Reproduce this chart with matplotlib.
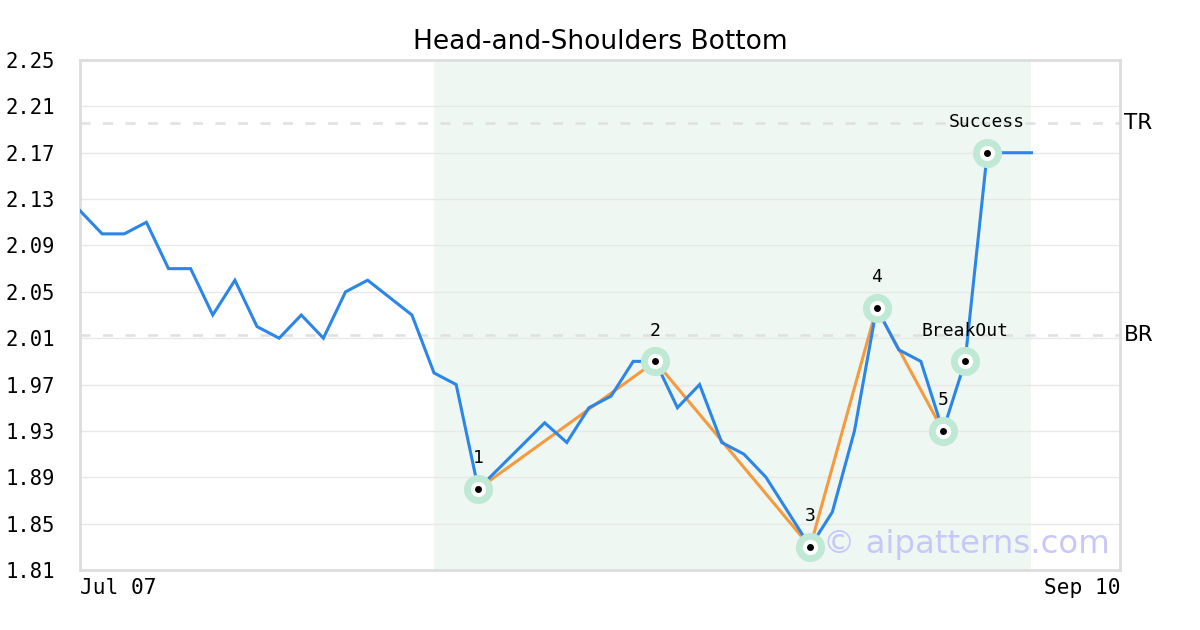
#Head-and-shoulders bottom chart, pattern points marked along the close prices
import matplotlib
matplotlib.use("Agg")
import matplotlib.pyplot as plt

#close prices, one per trading day (index 0 = Jul 07)
prices = [2.12, 2.10, 2.10, 2.11, 2.07, 2.07, 2.03, 2.06, 2.02, 2.01,
          2.03, 2.01, 2.05, 2.06, 2.045, 2.03, 1.98, 1.97, 1.88, 1.899,
          1.918, 1.937, 1.92, 1.95, 1.96, 1.99, 1.99, 1.95, 1.97, 1.92,
          1.91, 1.89, 1.86, 1.83, 1.86, 1.93, 2.036, 2.00, 1.99, 1.93,
          1.99, 2.17, 2.17, 2.17]

#pattern points 1..5, then breakout and success
pattern_idx = [18, 26, 33, 36, 39]
pattern_labels = ["1", "2", "3", "4", "5"]
breakout_idx = 40
success_idx = 41

br_level = 2.013
tr_level = 2.196

shade_start = 16
shade_end = 43

x_last = 47
x_tick_labels = ["Jul 07", "Sep 10"]
y_ticks = [1.81, 1.85, 1.89, 1.93, 1.97, 2.01, 2.05, 2.09, 2.13, 2.17, 2.21, 2.25]

BLUE = "#2b86e8"
ORANGE = "#f59a3e"
HALO = "#bfe9d5"
GRID = "#e8e8e8"
MONO = "DejaVu Sans Mono"

fig = plt.figure(figsize=(12, 6.3), dpi=100)
ax = fig.add_axes([80 / 1200, 60 / 630, 1040 / 1200, 510 / 630])

x_values = list(range(len(prices)))

ax.axvspan(shade_start, shade_end, color="#eff7f3", zorder=0, lw=0)

for y in y_ticks:
    ax.axhline(y, color=GRID, lw=1, zorder=1)

for level, name in [(tr_level, "TR"), (br_level, "BR")]:
    ax.axhline(level, color="#e0e0e0", lw=1.8, dashes=(4, 5), zorder=2)
    ax.text(1.004, level, name, transform=ax.get_yaxis_transform(),
            fontsize=15.5, va="center", ha="left")

ax.plot(x_values, prices, color=BLUE, lw=2.2, zorder=4, solid_joinstyle="miter")

orange_y = [prices[i] for i in pattern_idx]
ax.plot(pattern_idx, orange_y, color=ORANGE, lw=2.2, zorder=3)

marked = pattern_idx + [breakout_idx, success_idx]
marked_labels = pattern_labels + ["BreakOut", "Success"]
for i, label in zip(marked, marked_labels):
    ax.plot(i, prices[i], "o", ms=21, color=HALO, mec="none", zorder=5)
    ax.plot(i, prices[i], "o", ms=11, color="white", mec="none", zorder=6)
    ax.plot(i, prices[i], "o", ms=5, color="black", mec="none", zorder=7)
    ax.annotate(label, (i, prices[i]), xytext=(0, 22), textcoords="offset points",
                ha="center", va="center", fontsize=13, family=MONO, zorder=8)

ax.text(0.99, 0.05, "\u00a9 aipatterns.com", transform=ax.transAxes,
        ha="right", va="center", fontsize=23.3, color="#c8c8f8", zorder=3)

ax.set_xlim(0, x_last)
ax.set_ylim(y_ticks[0], y_ticks[-1])
ax.set_yticks(y_ticks)
ax.set_yticklabels([f"{v:.2f}" for v in y_ticks], family=MONO, fontsize=14.8)
ax.set_xticks([0, x_last])
xt = ax.set_xticklabels(x_tick_labels, family=MONO, fontsize=15.2)
xt[0].set_ha("left")
xt[1].set_ha("right")
ax.tick_params(axis="y", length=0, pad=18)
ax.tick_params(axis="x", length=0, pad=6)

for spine in ax.spines.values():
    spine.set_color("#dddddd")
    spine.set_linewidth(2)

ax.set_title("Head-and-Shoulders Bottom", fontsize=19, pad=8)

fig.savefig("out.png", dpi=100)
